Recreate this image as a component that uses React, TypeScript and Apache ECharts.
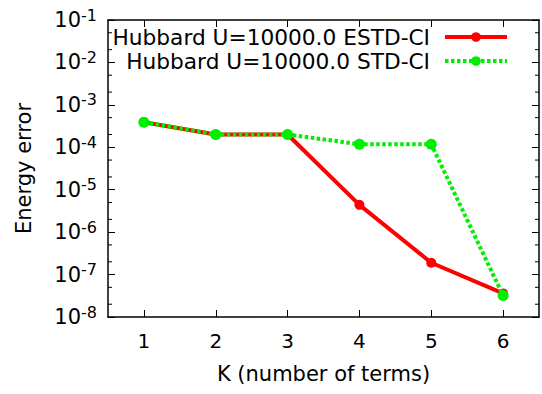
import React, { useEffect, useRef } from 'react';
import * as echarts from 'echarts';

const kTerms = ['1', '2', '3', '4', '5', '6'];
const seriesNames = ['Hubbard U=10000.0 ESTD-CI', 'Hubbard U=10000.0 STD-CI'];
const estdCI = [3.9e-4, 2.0e-4, 2.0e-4, 4.4e-6, 1.9e-7, 3.6e-8];
const stdCI = [3.9e-4, 2.0e-4, 2.0e-4, 1.18e-4, 1.18e-4, 3.2e-8];
const yMinorTicks = [2e-8, 5e-8, 2e-7, 5e-7, 2e-6, 5e-6, 2e-5, 5e-5, 2e-4, 5e-4, 2e-3, 5e-3, 2e-2, 5e-2];
const yMin = 1e-8;
const yMax = 1e-1;

const FONT = 'DejaVu Sans';

export default function App() {
  const ref = useRef<HTMLDivElement>(null);
  useEffect(() => {
    if (!ref.current) return;
    const chart = echarts.init(ref.current, null, { renderer: 'svg' });
    const axisLine = { show: true, lineStyle: { color: '#000', width: 1.5 } };
    const tick = { show: true, inside: true, length: 7, lineStyle: { color: '#000', width: 1 } };
    const supLabel = (v: number) => {
      const e = Math.round(Math.log10(v));
      return `{b|10}{s|${e}}`;
    };
    const legendText = { fontFamily: FONT, fontSize: 21.7, color: '#000', lineHeight: 22, padding: [0, 10, 0, 0] };
    chart.setOption({
      animation: false,
      backgroundColor: '#fff',
      textStyle: { fontFamily: FONT },
      grid: { left: 108, top: 20, right: 3, bottom: 77, containLabel: false },
      legend: [
        {
          data: [seriesNames[0]],
          orient: 'vertical',
          align: 'right',
          right: 33,
          top: 26,
          padding: 0,
          itemWidth: 62,
          itemHeight: 12,
          selectedMode: false,
          lineStyle: { width: 4 },
          textStyle: legendText,
        },
        {
          data: [seriesNames[1]],
          orient: 'vertical',
          align: 'right',
          right: 33,
          top: 50,
          padding: 0,
          itemWidth: 62,
          itemHeight: 12,
          selectedMode: false,
          lineStyle: { width: 4 },
          textStyle: legendText,
        },
      ],
      xAxis: [
        {
          type: 'category',
          data: kTerms,
          position: 'bottom',
          boundaryGap: true,
          name: 'K (number of terms)',
          nameLocation: 'middle',
          nameGap: 46,
          nameTextStyle: { fontFamily: FONT, fontSize: 21, color: '#000' },
          axisLine,
          axisTick: { ...tick, alignWithLabel: true },
          axisLabel: { fontFamily: FONT, fontSize: 20, color: '#000', margin: 14 },
          splitLine: { show: false },
        },
        {
          type: 'category',
          data: kTerms,
          position: 'top',
          boundaryGap: true,
          axisLine,
          axisTick: { ...tick, alignWithLabel: true },
          axisLabel: { show: false },
          splitLine: { show: false },
        },
      ],
      yAxis: [
        {
          type: 'log',
          logBase: 10,
          min: yMin,
          max: yMax,
          interval: 1,
          name: 'Energy error',
          nameLocation: 'middle',
          nameGap: 74,
          nameTextStyle: { fontFamily: FONT, fontSize: 21, color: '#000' },
          axisLine,
          axisTick: tick,
          axisLabel: {
            margin: 11,
            formatter: supLabel,
            rich: {
              b: { fontFamily: FONT, fontSize: 21, color: '#000', lineHeight: 26 },
              s: { fontFamily: FONT, fontSize: 16, color: '#000', verticalAlign: 'top', lineHeight: 16 },
            },
          },
          splitLine: { show: false },
        },
        {
          type: 'log',
          logBase: 10,
          min: yMin,
          max: yMax,
          interval: 1,
          position: 'right',
          axisLine,
          axisTick: tick,
          axisLabel: { show: false },
          splitLine: { show: false },
        },
      ],
      series: [
        {
          type: 'custom',
          name: 'minorTicks',
          silent: true,
          xAxisIndex: 0,
          yAxisIndex: 0,
          data: yMinorTicks.map((v) => [0, v]),
          renderItem: (params: any, api: any) => {
            const y = api.coord([0, api.value(1)])[1];
            const cs = params.coordSys;
            return {
              type: 'group',
              children: [
                { type: 'line', shape: { x1: cs.x, y1: y, x2: cs.x + 4, y2: y }, style: { stroke: '#000', lineWidth: 1 } },
                { type: 'line', shape: { x1: cs.x + cs.width - 4, y1: y, x2: cs.x + cs.width, y2: y }, style: { stroke: '#000', lineWidth: 1 } },
              ],
            };
          },
          z: 1,
        },
        {
          type: 'line',
          name: seriesNames[0],
          data: estdCI,
          symbol: 'circle',
          symbolSize: 10,
          lineStyle: { color: '#ff0000', width: 4 },
          itemStyle: { color: '#ff0000' },
          z: 3,
        },
        {
          type: 'line',
          name: seriesNames[1],
          data: stdCI,
          symbol: 'circle',
          symbolSize: 11,
          lineStyle: { color: '#00ee00', width: 4, type: [3.5, 2.5], cap: 'butt' },
          itemStyle: { color: '#00ee00' },
          z: 4,
        },
      ],
    });
    return () => chart.dispose();
  }, []);
  return <div ref={ref} style={{ position: 'fixed', left: 0, top: 0, width: 542, height: 394 }} />;
}
